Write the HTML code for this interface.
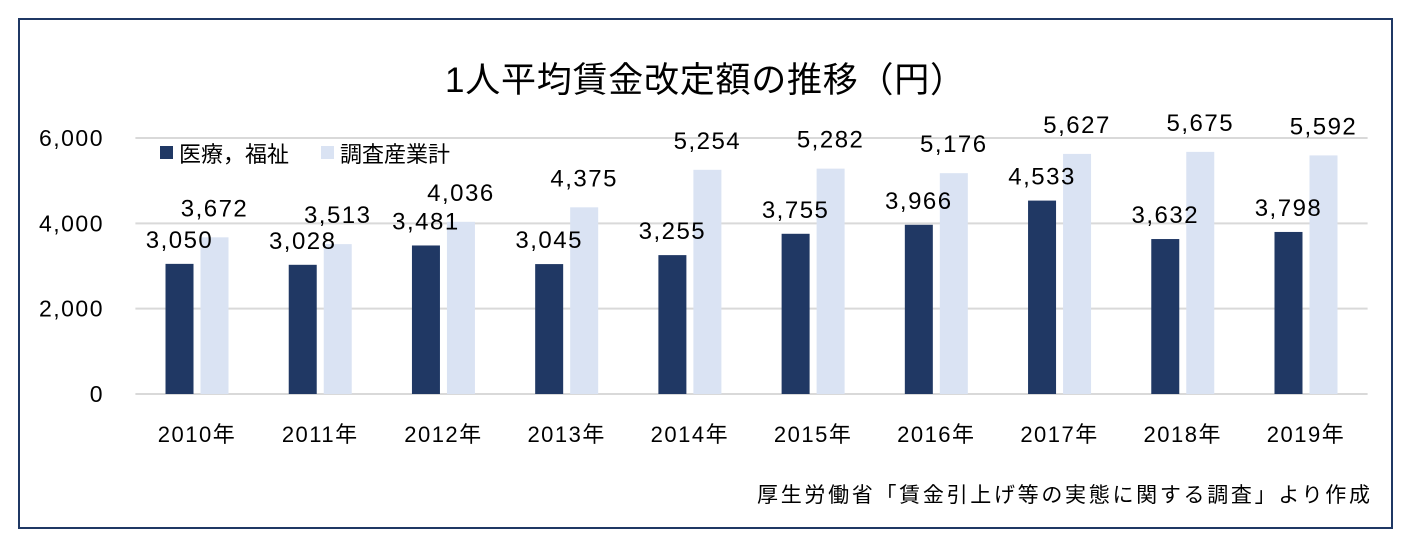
<!DOCTYPE html>
<html><head><meta charset="utf-8"><style>
body{margin:0;background:#fff;}
svg{display:block;font-family:"Liberation Sans","Noto Sans CJK JP",sans-serif;}
</style></head><body>
<svg id="c" width="1412" height="544">
<rect x="19" y="19" width="1373" height="509" fill="#fff" stroke="#1f3864" stroke-width="2"/>
<text x="705" y="92" font-size="35" text-anchor="middle" fill="#000" textLength="520">1人平均賃金改定額の推移（円）</text>
<g>
<rect x="160" y="146" width="13" height="13" fill="#203864"/>
<text x="179" y="162" font-size="22">医療，福祉</text>
<rect x="321" y="146" width="13" height="13" fill="#dae3f3"/>
<text x="340" y="162" font-size="22">調査産業計</text>
</g>
<g id="grid"></g><g id="bars"></g><g id="labels"></g>
<text x="757" y="502" font-size="21" textLength="613">厚生労働省「賃金引上げ等の実態に関する調査」より作成</text>
</svg>
<script>
const categories=["2010年","2011年","2012年","2013年","2014年","2015年","2016年","2017年","2018年","2019年"];
const medical=[3050,3028,3481,3045,3255,3755,3966,4533,3632,3798];
const allIndustries=[3672,3513,4036,4375,5254,5282,5176,5627,5675,5592];
const yTicks=[0,2000,4000,6000];
const tickLabels=["0","2,000","4,000","6,000"];
const NS="http://www.w3.org/2000/svg";
const x0=135.4,x1=1367.6,yBase=394,yTop=138,yMax=6000;
const step=(x1-x0)/categories.length;
const y=v=>yBase-(v/yMax)*(yBase-yTop);
const xc=i=>x0+step*(i+0.5);
function mk(t,a,p){const e=document.createElementNS(NS,t);for(const k in a)e.setAttribute(k,a[k]);p.appendChild(e);return e;}
const g=document.getElementById('grid'),b=document.getElementById('bars'),l=document.getElementById('labels');
yTicks.forEach((v,i)=>{
 const ln=mk('line',{x1:x0,x2:x1,y1:y(v),y2:y(v),stroke:'#d9d9d9','stroke-width':2},g);
 
 
 const t=mk('text',{x:104,y:y(v)+8,'font-size':23,'letter-spacing':1.5,'text-anchor':'end'},g);
 t.textContent=tickLabels[i];
 
 
});
const bw=28,gap=7;
const fmt=v=>v.toLocaleString('en-US');
categories.forEach((c,i)=>{
 const cx=xc(i);
 const r1=mk('rect',{x:cx-gap/2-bw,y:y(medical[i]),width:bw,height:yBase-y(medical[i]),fill:'#203864'},b);
 
 
 const r2=mk('rect',{x:cx+gap/2,y:y(allIndustries[i]),width:bw,height:yBase-y(allIndustries[i]),fill:'#dae3f3'},b);
 
 
 const t1=mk('text',{x:cx-gap/2-bw/2,y:y(medical[i])-16,'font-size':24,'letter-spacing':1.5,'text-anchor':'middle'},l);
 t1.textContent=fmt(medical[i]);
 
 
 const t2=mk('text',{x:cx+gap/2+bw/2,y:y(allIndustries[i])-21,'font-size':24,'letter-spacing':1.5,'text-anchor':'middle'},l);
 t2.textContent=fmt(allIndustries[i]);
 
 
 const tx=mk('text',{x:cx,y:442,'font-size':22,'letter-spacing':1.5,'text-anchor':'middle'},l);
 tx.textContent=c;
 
 
});
</script>
</body></html>
